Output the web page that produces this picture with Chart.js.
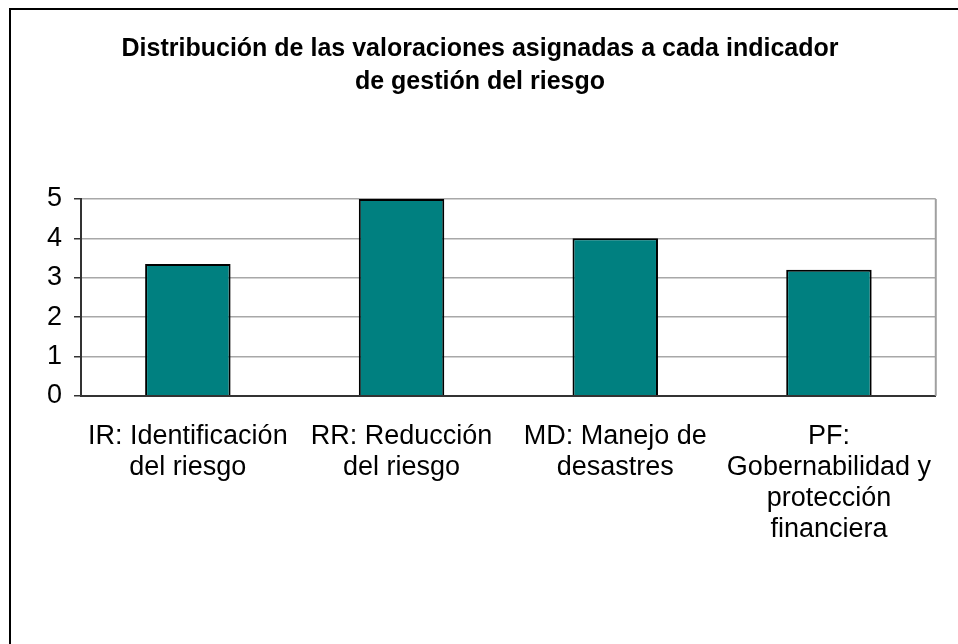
<!DOCTYPE html>
<html>
<head>
<meta charset="utf-8">
<script src="https://cdn.jsdelivr.net/npm/chart.js@4"></script>
<style>
  html, body { margin: 0; padding: 0; background: #fff; }
  #frame {
    position: absolute; left: 9px; top: 8px; width: 1000px; height: 700px;
    border: 2px solid #000; box-sizing: border-box;
  }
  #wrap { position: absolute; left: 0; top: 0; width: 958px; height: 644px; }
</style>
</head>
<body>
<div id="frame"></div>
<div id="wrap"><canvas id="chart" width="958" height="644"></canvas></div>
<script>
// Chart data
const titleLines = [
  "Distribución de las valoraciones asignadas a cada indicador",
  "de gestión del riesgo"
];
const categories = [
  ["IR: Identificación", "del riesgo"],
  ["RR: Reducción", "del riesgo"],
  ["MD: Manejo de", "desastres"],
  ["PF:", "Gobernabilidad y", "protección", "financiera"]
];
const values = [3.35, 5, 4, 3.2];
const yTicks = [0, 1, 2, 3, 4, 5];

const FONT = "'Liberation Sans', Arial, sans-serif";

new Chart(document.getElementById("chart"), {
  type: "bar",
  data: {
    labels: categories,
    datasets: [{
      data: values,
      backgroundColor: "#008080",
      borderColor: "#000",
      borderWidth: 2,
      categoryPercentage: 1,
      barPercentage: 0.4
    }]
  },
  options: {
    responsive: false,
    animation: false,
    layout: { padding: { left: 18, right: 16, top: 0, bottom: 74 } },
    plugins: {
      legend: { display: false },
      tooltip: { enabled: false },
      title: {
        display: true,
        text: titleLines,
        color: "#000",
        font: { family: FONT, size: 25, weight: "bold", lineHeight: 1.32 },
        padding: { top: 33, bottom: 100 }
      }
    },
    scales: {
      x: {
        grid: { display: false, drawTicks: false },
        border: { color: "#333", width: 2 },
        ticks: {
          color: "#000",
          font: { family: FONT, size: 27, lineHeight: 1.15 },
          padding: 25,
          maxRotation: 0,
          autoSkip: false
        }
      },
      y: {
        min: 0,
        max: 5,
        afterBuildTicks: (scale) => { scale.ticks = yTicks.map(v => ({ value: v })); },
        afterFit: (scale) => { scale.width = 63; },
        grid: { color: "#a8a8a8", lineWidth: 1.5, tickLength: 7, tickColor: "#333" },
        border: { color: "#333", width: 2 },
        ticks: {
          color: "#000",
          font: { family: FONT, size: 27 },
          padding: 12
        }
      }
    }
  },
  plugins: [{
    // right edge of plot area in gray, like the original
    id: "plotEdge",
    afterDraw(chart) {
      const { ctx, chartArea: a } = chart;
      ctx.save();
      ctx.strokeStyle = "#a0a0a0";
      ctx.lineWidth = 2;
      ctx.beginPath();
      ctx.moveTo(a.right, a.top);
      ctx.lineTo(a.right, a.bottom);
      ctx.stroke();
      ctx.restore();
    }
  }]
});
</script>
</body>
</html>
